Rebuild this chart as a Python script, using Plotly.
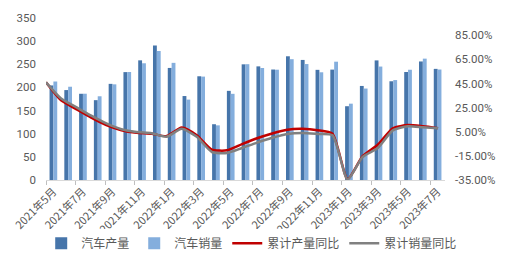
import plotly.graph_objects as go

months = ["2021年5月", "2021年6月", "2021年7月", "2021年8月", "2021年9月", "2021年10月",
          "2021年11月", "2021年12月", "2022年1月", "2022年2月", "2022年3月", "2022年4月",
          "2022年5月", "2022年6月", "2022年7月", "2022年8月", "2022年9月", "2022年10月",
          "2022年11月", "2022年12月", "2023年1月", "2023年2月", "2023年3月", "2023年4月",
          "2023年5月", "2023年6月", "2023年7月"]

production = [204.3, 194.3, 186.3, 172.5, 207.7, 233.1, 258.5, 290.7, 242.1, 181.4, 224.1, 120.5,
              192.6, 249.9, 245.5, 238.7, 267.3, 259.4, 238.0, 238.5, 159.4, 203.2, 258.4, 213.3,
              233.3, 256.1, 240.1]
sales = [212.8, 201.5, 186.4, 180.9, 206.7, 233.3, 252.2, 278.6, 253.1, 173.7, 223.4, 118.1,
         186.2, 250.2, 242.0, 238.3, 261.0, 250.5, 232.7, 255.6, 164.9, 197.6, 245.1, 215.9,
         238.2, 262.2, 238.7]
prod_yoy = [46.0, 31.0, 23.8, 16.7, 10.5, 6.3, 4.2, 3.4, 1.4, 8.5, 2.1, -9.8, -10.4, -5.3,
            -0.4, 3.6, 6.7, 7.4, 6.3, 3.4, -34.3, -15.2, -5.8, 7.9, 10.5, 9.5, 8.0]
sales_yoy = [46.0, 32.6, 25.4, 18.3, 11.9, 7.1, 4.7, 3.8, 0.9, 7.4, 0.8, -11.8, -12.7, -8.5,
             -4.0, 0.0, 3.2, 4.0, 3.2, 2.1, -34.6, -15.9, -8.5, 6.1, 9.5, 8.7, 7.9]

right_ticks = [-35, -15, 5, 25, 45, 65, 85]
right_labels = [f"{v:.2f}%" for v in right_ticks]
left_ticks = [0, 50, 100, 150, 200, 250, 300, 350]

FONT = "Noto Sans CJK SC, sans-serif"
NUMFONT = "Roboto, Noto Sans, sans-serif"
TXT = "#595959"

fig = go.Figure()
fig.add_trace(go.Bar(x=months, y=production, name="汽车产量", marker_color="#4675AA",
                     marker_line_width=0))
fig.add_trace(go.Bar(x=months, y=sales, name="汽车销量", marker_color="#84AEDD",
                     marker_line_width=0))
fig.add_trace(go.Scatter(x=months, y=prod_yoy, name="累计产量同比", mode="lines",
                         line=dict(color="#C00000", width=2.5, shape="spline", smoothing=0.6),
                         xaxis="x2", yaxis="y2"))
fig.add_trace(go.Scatter(x=months, y=sales_yoy, name="累计销量同比", mode="lines",
                         line=dict(color="#808080", width=2.5, shape="spline", smoothing=0.6),
                         xaxis="x2", yaxis="y2"))

fig.update_layout(
    width=507, height=277,
    margin=dict(l=40, r=60, t=11, b=97),
    paper_bgcolor="white", plot_bgcolor="white",
    font=dict(family=FONT, size=11, color=TXT),
    barmode="group", bargap=0.48, bargroupgap=0,
    showlegend=True,
    legend=dict(orientation="h", x=-0.012, xanchor="left", y=-0.39, yanchor="middle",
                font=dict(size=12, color=TXT), itemwidth=30, tracegroupgap=0,
                traceorder="normal"),
    xaxis=dict(type="category", range=[-0.5, 26.5], tickangle=-45, dtick=2,
               tickson="boundaries", ticks="outside", ticklen=4, tickcolor="#BFBFBF",
               showline=True, linecolor="#D9D9D9", linewidth=1, showgrid=False,
               tickfont=dict(size=11, color=TXT)),
    xaxis2=dict(type="category", overlaying="x", range=[0, 26.46], visible=False,
                showgrid=False),
    yaxis=dict(range=[0, 350], tickvals=left_ticks, showgrid=False, showline=False,
               zeroline=False, ticks="", ticklabelstandoff=9,
               tickfont=dict(family=NUMFONT, size=11.5, color=TXT)),
    yaxis2=dict(range=[-35, 99.3], tickvals=right_ticks, ticktext=right_labels,
                overlaying="y", side="right", showgrid=False, showline=False,
                zeroline=False, ticks="", ticklabelstandoff=9,
                tickfont=dict(family=NUMFONT, size=11.5, color=TXT)),
)

fig.write_html("out.html")
